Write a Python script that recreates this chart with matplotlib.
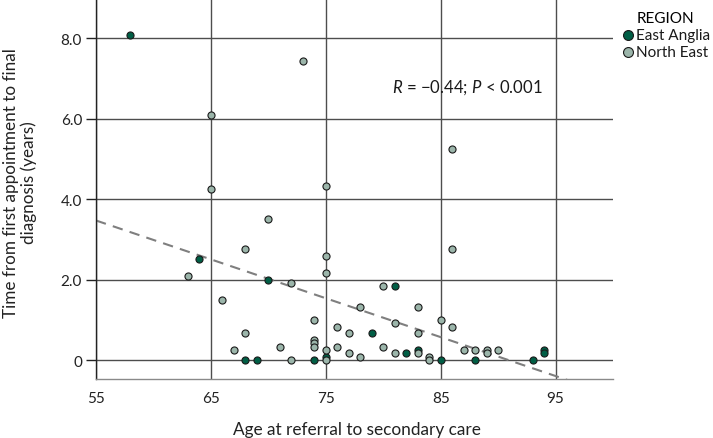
import numpy as np
import matplotlib
matplotlib.use("Agg")
import matplotlib.pyplot as plt

plt.rcParams['font.family'] = ['Lato', 'DejaVu Sans']
plt.rcParams['mathtext.fontset'] = 'custom'
plt.rcParams['mathtext.rm'] = 'Lato'
plt.rcParams['mathtext.it'] = 'Lato:italic'

# ---- data ----
ea_age = [58, 64, 70, 68, 69, 74, 75, 79, 81, 82, 83, 85, 88, 93, 94, 94]
ea_time = [8.08, 2.50, 2.00, 0, 0, 0, 0.08, 0.67, 1.83, 0.17, 0.25, 0, 0, 0, 0.25, 0.17]

ne_age = [73, 65, 65, 75, 86, 70, 68, 75, 75, 63, 72, 66, 74, 76, 68, 77, 74, 74,
          71, 74, 76, 67, 75, 77, 72, 75, 86, 80, 78, 83, 85, 81, 86, 83, 80, 87,
          88, 89, 90, 81, 83, 89, 78, 84, 84]
ne_time = [7.42, 6.08, 4.25, 4.33, 5.25, 3.50, 2.75, 2.58, 2.17, 2.08, 1.92, 1.50,
           1.00, 0.83, 0.67, 0.67, 0.50, 0.42, 0.33, 0.33, 0.33, 0.25, 0.25, 0.17,
           0, 0, 2.75, 1.83, 1.33, 1.33, 1.00, 0.92, 0.83, 0.67, 0.33, 0.25, 0.25,
           0.25, 0.25, 0.17, 0.17, 0.17, 0.08, 0.08, 0]

x_ticks = [55, 65, 75, 85, 95]
y_ticks = [0, 2, 4, 6, 8]
y_tick_labels = ["0", "2.0", "4.0", "6.0", "8.0"]
regions = ["East Anglia", "North East"]
stat_text = "$R$ = \u22120.44; $P$ < 0.001"

ea_color = "#005e45"
ne_color = "#9bb5aa"

fig = plt.figure(figsize=(7.13, 4.39), dpi=100)
ax = fig.add_axes([96/713, 1-380/439, (613-96)/713, 380/439])

ax.set_xlim(55, 100)
ax.set_ylim(-0.47, 8.97)

ax.set_xticks(x_ticks)
ax.set_yticks(y_ticks)
ax.set_yticklabels(y_tick_labels)
ax.grid(True, color="#4d4d4d", linewidth=1.0)
ax.set_axisbelow(True)

for s in ["top", "right"]:
    ax.spines[s].set_visible(False)
ax.spines["left"].set_color("#222222")
ax.spines["left"].set_linewidth(1.0)
ax.spines["bottom"].set_color("#8a8a8a")
ax.spines["bottom"].set_linewidth(1.0)

ax.tick_params(axis="y", length=7, width=1.0, color="#222222", pad=3,
               labelsize=11, labelcolor="#222222")
ax.tick_params(axis="x", length=0, pad=9, labelsize=11, labelcolor="#222222")

# regression line
all_x = np.array(ea_age + ne_age, dtype=float)
all_y = np.array(ea_time + ne_time, dtype=float)
slope, intercept = np.polyfit(all_x, all_y, 1)
xx = np.array([55, 100])
ax.plot(xx, intercept + slope * xx, linestyle=(0, (5, 3.5)), color="#7f7f7f",
        linewidth=1.5, zorder=2)

ax.scatter(ea_age, ea_time, s=26, color=ea_color, edgecolor="#1a1a1a",
           linewidth=0.8, zorder=3, label=regions[0])
ax.scatter(ne_age, ne_time, s=26, color=ne_color, edgecolor="#1a1a1a",
           linewidth=0.8, zorder=3, label=regions[1])

stat = ax.text(87.3, 6.8, stat_text, ha="center", va="center", fontsize=12,
               color="#1a1a1a")

ylab = fig.text(20/713, 1-183/439, "Time from first appointment to final\ndiagnosis (years)",
                rotation=90, ha="center", va="center", multialignment="center",
                fontsize=11.5, color="#222222", linespacing=1.15)
xlab = fig.text(357/713, 1-430/439, "Age at referral to secondary care",
                ha="center", va="center", fontsize=11.5, color="#222222")

# calibrate label sizes to the reference's measured text extents (pixels)
fig.canvas.draw()
r = fig.canvas.get_renderer()
w = xlab.get_window_extent(r).width
xlab.set_fontsize(11.5 * 249 / w)
stat_w = stat.get_window_extent(r).width
stat.set_fontsize(12 * 150 / stat_w)
h = ylab.get_window_extent(r).height
ylab.set_fontsize(11.5 * 270 / h)

leg = fig.legend(handles=ax.collections, labels=regions, title="REGION",
                 loc="upper left", bbox_to_anchor=(613/713, 1-4/439),
                 frameon=False, markerscale=1.4, handletextpad=0.1,
                 handlelength=0.9, borderpad=0, labelspacing=0.2,
                 fontsize=11, title_fontsize=11)
for t in leg.get_texts():
    t.set_color("#1a1a1a")

fig.savefig("out.png", dpi=100)
